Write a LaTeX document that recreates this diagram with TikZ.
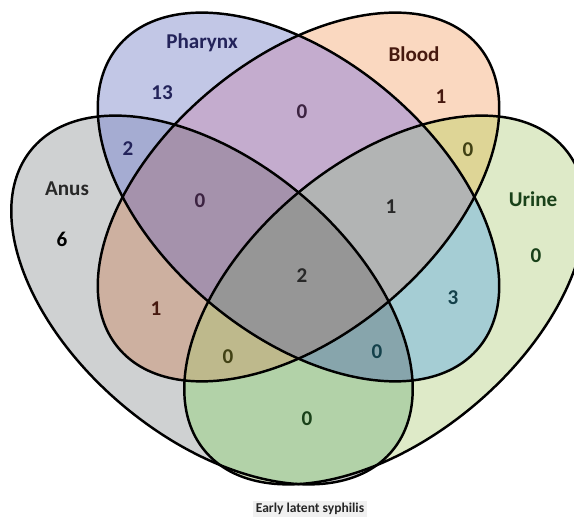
\documentclass[tikz,border=0pt]{standalone}
\usepackage{fontspec}
\setmainfont{Carlito}
\usepackage{tikz}

% region colours
\definecolor{cA}{HTML}{CFD1D2}
\definecolor{cP}{HTML}{C2C7E6}
\definecolor{cB}{HTML}{FAD8C0}
\definecolor{cU}{HTML}{DEEAC8}
\definecolor{cAP}{HTML}{A5ACD2}
\definecolor{cAB}{HTML}{CDB0A0}
\definecolor{cPB}{HTML}{C4ACCE}
\definecolor{cBU}{HTML}{DED596}
\definecolor{cPU}{HTML}{A5CDD4}
\definecolor{cAU}{HTML}{B2D2A8}
\definecolor{cAPB}{HTML}{A592AC}
\definecolor{cPBU}{HTML}{B2B4B4}
\definecolor{cABU}{HTML}{BEB98C}
\definecolor{cAPU}{HTML}{87A5AC}
\definecolor{cAPBU}{HTML}{969696}
% text colours
\definecolor{tP}{RGB}{35,35,90}
\definecolor{tB}{RGB}{70,25,15}
\definecolor{tU}{RGB}{25,65,25}
\definecolor{tA}{RGB}{40,40,40}
\definecolor{tO}{RGB}{65,65,20}
\definecolor{tT}{RGB}{20,65,75}
\definecolor{tM}{RGB}{60,35,65}

\def\anusset{[rotate around={-40:(4.24,4.36)}] (4.24,4.36) ellipse (4.70 and 2.76)}
\def\urineset{[rotate around={40:(7.70,4.36)}] (7.70,4.36) ellipse (4.70 and 2.76)}
\def\pharset{[rotate around={-40:(5.97,6.42)}] (5.97,6.42) ellipse (4.70 and 2.76)}
\def\bloodset{[rotate around={40:(5.97,6.42)}] (5.97,6.42) ellipse (4.70 and 2.76)}

\tikzset{
  lbl/.style={font=\fontsize{12}{14}\selectfont\bfseries},
  rim/.style={draw=black,line width=1.4pt}
}

\begin{document}
\begin{tikzpicture}
\useasboundingbox (0,0) rectangle (11.48,10.36);
\clip (0,0) rectangle (11.48,10.36);

\fill[cA] \anusset;
\fill[cU] \urineset;
\fill[cP] \pharset;
\fill[cB] \bloodset;

\begin{scope}\clip\anusset; \fill[cAP] \pharset;\end{scope}
\begin{scope}\clip\anusset; \fill[cAB] \bloodset;\end{scope}
\begin{scope}\clip\anusset; \fill[cAU] \urineset;\end{scope}
\begin{scope}\clip\pharset; \fill[cPB] \bloodset;\end{scope}
\begin{scope}\clip\pharset; \fill[cPU] \urineset;\end{scope}
\begin{scope}\clip\bloodset; \fill[cBU] \urineset;\end{scope}

\begin{scope}\clip\anusset; \clip\pharset; \fill[cAPB] \bloodset;\end{scope}
\begin{scope}\clip\anusset; \clip\pharset; \fill[cAPU] \urineset;\end{scope}
\begin{scope}\clip\anusset; \clip\bloodset; \fill[cABU] \urineset;\end{scope}
\begin{scope}\clip\pharset; \clip\bloodset; \fill[cPBU] \urineset;\end{scope}
\begin{scope}\clip\anusset; \clip\pharset; \clip\bloodset; \fill[cAPBU] \urineset;\end{scope}

\draw[rim] \anusset;
\draw[rim] \urineset;
\draw[rim] \pharset;
\draw[rim] \bloodset;

\node[lbl,tP] (pharynx) at (4.04,9.50) {Pharynx};
\node[lbl,tB] (blood) at (8.28,9.28) {Blood};
\node[lbl,tA] (anus) at (1.34,6.58) {Anus};
\node[lbl,tU] (urine) at (10.66,6.38) {Urine};

\node[lbl,tP] (nP) at (3.24,8.50) {13};
\node[lbl,tB] (nB) at (8.82,8.42) {1};
\node[lbl,black] (nA) at (1.24,5.58) {6};
\node[lbl,tU] (nU) at (10.72,5.24) {0};

\node[lbl,tP] (nAP) at (2.56,7.38) {2};
\node[lbl,tM] (nPB) at (6.04,8.12) {0};
\node[lbl,tO] (nBU) at (9.36,7.36) {0};
\node[lbl,tB] (nAB) at (3.12,4.18) {1};
\node[lbl,tT] (nPU) at (9.06,4.40) {3};
\node[lbl,tU] (nAU) at (6.14,1.98) {0};

\node[lbl,tM] (nAPB) at (4.00,6.34) {0};
\node[lbl,tA] (nPBU) at (7.82,6.22) {1};
\node[lbl,tO] (nABU) at (4.56,3.22) {0};
\node[lbl,tT] (nAPU) at (7.54,3.32) {0};
\node[lbl,tA] (nAPBU) at (6.04,4.84) {2};

\node[font=\fontsize{7.7}{9}\selectfont\bfseries,fill=black!6,inner sep=1.5pt,text=black!85] (title) at (6.20,0.18) {Early latent syphilis};
\end{tikzpicture}
\end{document}
